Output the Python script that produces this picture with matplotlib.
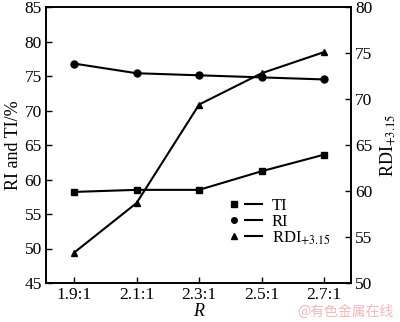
import matplotlib.pyplot as plt
from matplotlib.lines import Line2D
from matplotlib.legend_handler import HandlerTuple

plt.rcParams['font.family'] = ['Liberation Serif', 'DejaVu Serif']
plt.rcParams['mathtext.fontset'] = 'stix'

ratios = ['1.9:1', '2.1:1', '2.3:1', '2.5:1', '2.7:1']
ti = [58.2, 58.5, 58.5, 61.2, 63.6]
ri = [76.8, 75.4, 75.1, 74.8, 74.5]
rdi = [53.3, 58.7, 69.4, 72.8, 75.1]

x = list(range(len(ratios)))

fig = plt.figure(figsize=(4.0, 3.22), dpi=100)
ax = fig.add_axes([46 / 400, 1 - 283 / 322, 305 / 400, 276 / 322])
ax2 = ax.twinx()

ax.plot(x, ti, color='black', lw=1.5, marker='s', ms=5)
ax.plot(x, ri, color='black', lw=1.5, marker='o', ms=5)
ax2.plot(x, rdi, color='black', lw=1.5, marker='^', ms=5)

ax.set_xlim(-0.45, 4.43)
ax.set_ylim(45, 85)
ax2.set_ylim(50, 80)
ax.set_xticks(x)
ax.set_xticklabels(ratios)
ax.set_yticks(range(45, 86, 5))
ax2.set_yticks(range(50, 81, 5))

for a in (ax, ax2):
    a.tick_params(direction='in', length=4, width=1, labelsize=12.5, pad=3)
    for s in a.spines.values():
        s.set_linewidth(1.2)

ax.set_xlabel('R', fontsize=13, style='italic', labelpad=0)
ax.set_ylabel('RI and TI/%', fontsize=13, labelpad=2)
ax2.set_ylabel('RDI$_{+3.15}$', fontsize=13, labelpad=4)

# legend: marker followed by a short line segment
def entry(m):
    return (Line2D([], [], color='black', marker=m, ms=4, ls='none'),
            Line2D([], [], color='black', lw=1.5))

ax.legend([entry('s'), entry('o'), entry('^')],
          ['TI', 'RI', 'RDI$_{+3.15}$'],
          handler_map={tuple: HandlerTuple(ndivide=None, pad=0.15)},
          loc='lower left', bbox_to_anchor=(0.56, 0.1),
          frameon=False, fontsize=12, handlelength=2.2,
          handletextpad=0.6, labelspacing=0.0, borderpad=0)

fig.text(0.985, 0.01, '@有色金属在线', ha='right', va='bottom',
         fontsize=10, color='#f0b8b8',
         family=['Noto Sans CJK SC', 'DejaVu Sans'])

fig.savefig('out.png', dpi=100)
